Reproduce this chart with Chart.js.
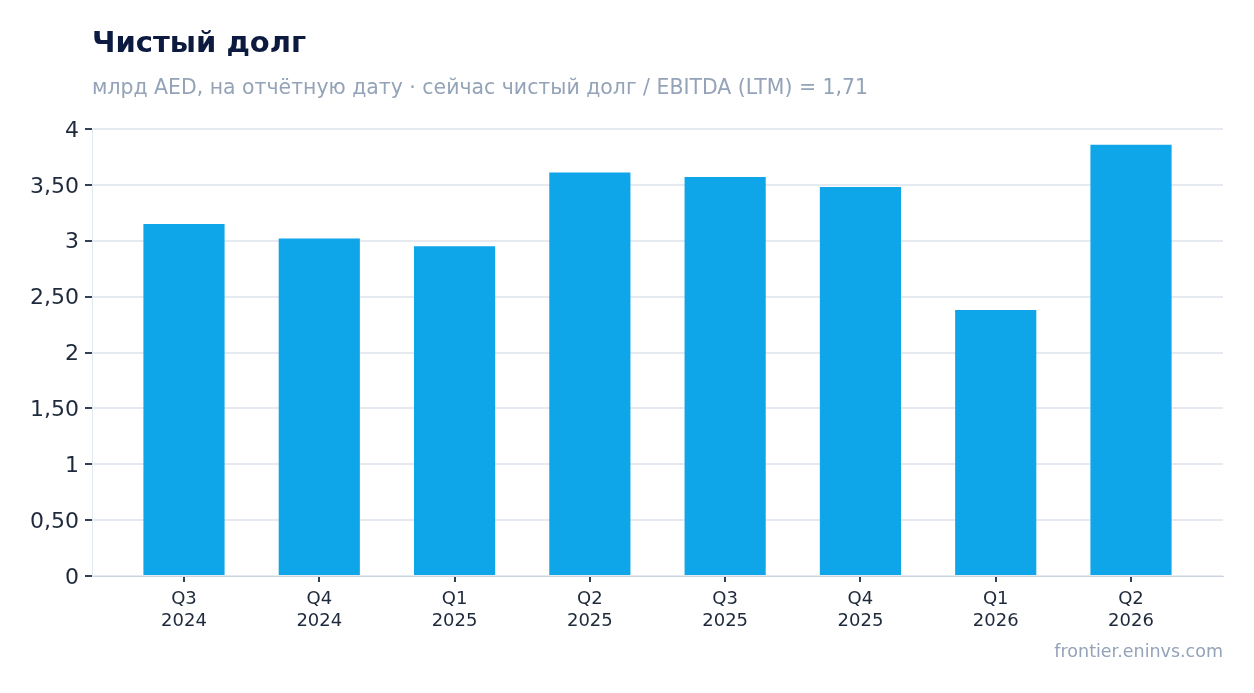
<!DOCTYPE html>
<html>
<head>
<meta charset="utf-8">
<script src="https://cdn.jsdelivr.net/npm/chart.js@4.4.1/dist/chart.umd.min.js"></script>
<style>
  html, body { margin: 0; padding: 0; background: #ffffff; }
  body { width: 1254px; height: 693px; position: relative; overflow: hidden; font-family: "DejaVu Sans", sans-serif; }
  #title { position: absolute; left: 92px; top: 25px; font-size: 29px; font-weight: bold; color: #0c1a3f; white-space: nowrap; }
  #subtitle { position: absolute; left: 92px; top: 75px; font-size: 20.45px; color: #94a3b8; white-space: nowrap; }
  #footer { position: absolute; right: 31px; top: 641px; font-size: 17.5px; color: #94a3b8; white-space: nowrap; }
  #wrap { position: absolute; left: 0; top: 0; width: 1254px; height: 693px; }
</style>
</head>
<body>
<div id="wrap"><canvas id="c"></canvas></div>
<div id="title">Чистый долг</div>
<div id="subtitle">млрд AED, на отчётную дату · сейчас чистый долг / EBITDA (LTM) = 1,71</div>
<div id="footer">frontier.eninvs.com</div>
<script>
const categories = [["Q3","2024"],["Q4","2024"],["Q1","2025"],["Q2","2025"],["Q3","2025"],["Q4","2025"],["Q1","2026"],["Q2","2026"]];
const netDebt = [3.15, 3.02, 2.95, 3.61, 3.57, 3.48, 2.38, 3.86];
const yTicks = [0, 0.5, 1, 1.5, 2, 2.5, 3, 3.5, 4];

function fmt(v) {
  if (v === 0) return "0";
  if (Number.isInteger(v)) return String(v);
  return v.toFixed(2).replace(".", ",");
}

const points = netDebt.map((v, i) => ({ x: i, y: v }));

new Chart(document.getElementById("c"), {
  type: "bar",
  data: {
    datasets: [{
      data: points,
      backgroundColor: "#0ea5e9",
      borderWidth: 0,
      categoryPercentage: 1,
      barPercentage: 0.6
    }]
  },
  options: {
    responsive: true,
    maintainAspectRatio: false,
    animation: false,
    layout: { padding: { top: 129, right: 31, bottom: 52, left: 0 } },
    plugins: { legend: { display: false }, tooltip: { enabled: false }, title: { display: false } },
    scales: {
      x: {
        type: "linear",
        offset: false,
        min: -0.68, max: categories.length - 1 + 0.68,
        afterFit: (s) => { s.height = 65; },
        afterBuildTicks: (s) => { s.ticks = categories.map((c, i) => ({ value: i })); },
        grid: { offset: false, color: "rgba(0,0,0,0)", tickColor: "#334155", tickLength: 6, lineWidth: 2 },
        border: { color: "#cbd5e1", width: 1 },
        ticks: { color: "#1e293b", font: { family: "DejaVu Sans", size: 18 }, padding: 7, autoSkip: false, maxRotation: 0,
                 callback: (v) => categories[v] }
      },
      y: {
        min: 0, max: 4,
        afterFit: (s) => { s.width = 92; },
        afterBuildTicks: (s) => { s.ticks = yTicks.map(v => ({ value: v })); },
        grid: { color: "#e5e9f0", lineWidth: 2, tickColor: "#334155", tickLength: 7 },
        border: { color: "#e2e8f0", width: 1 },
        ticks: { color: "#1e293b", font: { family: "DejaVu Sans", size: 22 }, padding: 6, labelOffset: 2, callback: (v) => fmt(v) }
      }
    }
  }
});
</script>
</body>
</html>
